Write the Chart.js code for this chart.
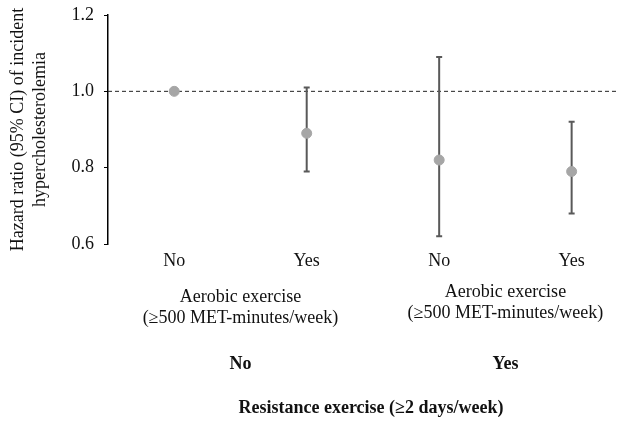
<!DOCTYPE html>
<html>
<head>
<meta charset="utf-8">
<script src="https://cdn.jsdelivr.net/npm/chart.js@4.4.1/dist/chart.umd.min.js"></script>
<style>
  body { margin: 0; background: #fff; }
  #wrap { width: 624px; height: 426px; }
</style>
</head>
<body>
<div id="wrap"><canvas id="hrChart"></canvas></div>
<script>
// Hazard ratio data
const xPos = [1, 2, 3, 4]
const aerobicLabels = ['No', 'Yes', 'No', 'Yes']
const hazardRatio = [1.0, 0.89, 0.82, 0.79]
const ciLow = [1.0, 0.79, 0.62, 0.68]
const ciHigh = [1.0, 1.01, 1.09, 0.92]
const yTicks = [0.6, 0.8, 1.0, 1.2]
const resistanceGroups = ['No', 'Yes']

const serif = "'Liberation Serif', 'Times New Roman', serif"

// dashed reference line at HR = 1 and the CI whiskers
const refAndBars = {
    id: 'refAndBars',
    beforeDatasetsDraw(chart) {
        const ctx = chart.ctx
        const x = chart.scales.x
        const y = chart.scales.y
        const area = chart.chartArea
        ctx.save()
        ctx.strokeStyle = '#222'
        ctx.lineWidth = 1
        ctx.setLineDash([4, 3])
        ctx.beginPath()
        ctx.moveTo(area.left, y.getPixelForValue(1.0))
        ctx.lineTo(area.right, y.getPixelForValue(1.0))
        ctx.stroke()
        ctx.setLineDash([])

        ctx.strokeStyle = '#595959'
        ctx.lineWidth = 2
        xPos.forEach((v, i) => {
            if (ciLow[i] === ciHigh[i]) return
            const px = x.getPixelForValue(v)
            const top = y.getPixelForValue(ciHigh[i])
            const bot = y.getPixelForValue(ciLow[i])
            ctx.beginPath()
            ctx.moveTo(px, top)
            ctx.lineTo(px, bot)
            ctx.moveTo(px - 3, top)
            ctx.lineTo(px + 3, top)
            ctx.moveTo(px - 3, bot)
            ctx.lineTo(px + 3, bot)
            ctx.stroke()
        })
        ctx.restore()
    }
}

// group labels below the x axis
const groupLabels = {
    id: 'groupLabels',
    afterDraw(chart) {
        const ctx = chart.ctx
        const x = chart.scales.x
        const b = chart.chartArea.bottom
        const c1 = (x.getPixelForValue(1) + x.getPixelForValue(2)) / 2
        const c2 = (x.getPixelForValue(3) + x.getPixelForValue(4)) / 2
        ctx.save()
        ctx.fillStyle = '#111'
        ctx.textAlign = 'center'
        ctx.textBaseline = 'middle'
        ctx.font = '18px ' + serif
        ctx.fillText('Aerobic exercise', c1, b + 53)
        ctx.fillText('(\u2265500 MET-minutes/week)', c1, b + 74)
        ctx.fillText('Aerobic exercise', c2, b + 48)
        ctx.fillText('(\u2265500 MET-minutes/week)', c2, b + 69)
        ctx.font = 'bold 18px ' + serif
        ctx.fillText(resistanceGroups[0], c1, b + 120)
        ctx.fillText(resistanceGroups[1], c2, b + 120)
        ctx.fillText('Resistance exercise (\u22652 days/week)', (c1 + c2) / 2 - 2, b + 164)
        ctx.restore()
    }
}

const config = {
    type: 'scatter',
    data: {
        datasets: [{
            label: 'HR',
            data: xPos.map((v, i) => ({ x: v, y: hazardRatio[i] })),
            backgroundColor: '#a6a6a6',
            borderColor: '#a6a6a6',
            pointRadius: 5,
            pointHoverRadius: 5
        }]
    },
    options: {
        responsive: true,
        maintainAspectRatio: false,
        animation: false,
        layout: { padding: { top: 15, right: 4, left: 0, bottom: 0 } },
        plugins: {
            legend: { display: false },
            tooltip: { enabled: false }
        },
        scales: {
            x: {
                type: 'linear',
                min: 0.5,
                max: 4.35,
                afterBuildTicks: scale => { scale.ticks = xPos.map(v => ({ value: v })) },
                afterFit: scale => { scale.height = 182 },
                grid: { display: false, drawTicks: false },
                border: { display: false },
                ticks: {
                    padding: 6,
                    color: '#111',
                    font: { family: serif, size: 18 },
                    callback: (v, i) => aerobicLabels[i]
                }
            },
            y: {
                min: 0.6,
                max: 1.2,
                afterBuildTicks: scale => { scale.ticks = yTicks.map(v => ({ value: v })) },
                afterFit: scale => {
                    scale.width = 108
                    scale.paddingTop = 0
                    scale.paddingBottom = 0
                },
                grid: { drawOnChartArea: false, tickLength: 4, color: '#000' },
                border: { color: '#000', width: 1.5 },
                ticks: {
                    padding: 10,
                    color: '#111',
                    font: { family: serif, size: 18 },
                    callback: v => v.toFixed(1)
                },
                title: {
                    display: true,
                    text: ['Hazard ratio (95% CI) of incident', 'hypercholesterolemia'],
                    color: '#111',
                    font: { family: serif, size: 18, lineHeight: 1.22 },
                    padding: { top: 7, bottom: 0 }
                }
            }
        }
    },
    plugins: [refAndBars, groupLabels]
}

new Chart(document.getElementById('hrChart'), config)
</script>
</body>
</html>
